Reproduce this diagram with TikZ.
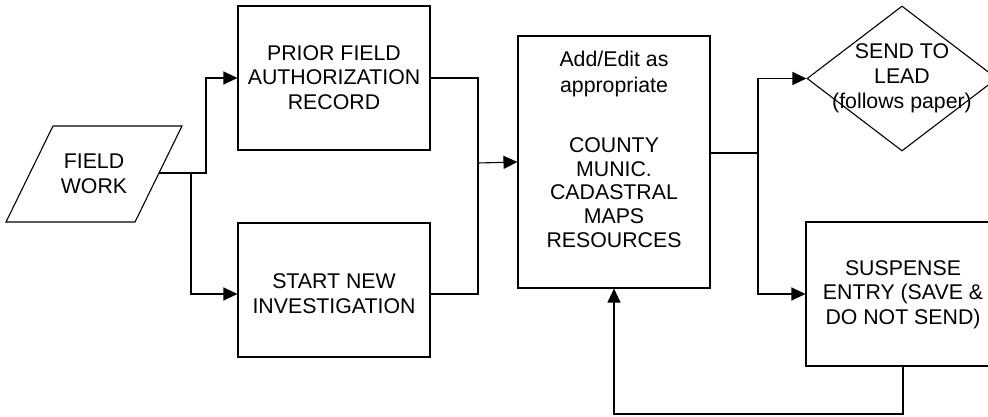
\documentclass[tikz,border=0pt]{standalone}
\usepackage{fontspec}
\setmainfont{Liberation Sans}
\usetikzlibrary{arrows.meta,shapes.geometric}
\begin{document}
\begin{tikzpicture}[x=1pt,y=-1pt,line width=1.1pt,
  box/.style={draw,rectangle,inner sep=0pt},
  txt/.style={align=center,inner sep=0pt,anchor=north,font=\fontsize{21.3}{24.8}\selectfont},
  arr/.style={-{Triangle[length=14pt,width=13pt]}}]
\useasboundingbox (0,0) rectangle (988,417);
\clip (0,0) rectangle (988,417);
% field work parallelogram
\coordinate (fwA) at (53,126);
\coordinate (fwB) at (182,126);
\coordinate (fwC) at (135,222);
\coordinate (fwD) at (6,222);
\draw (fwA) -- (fwB) -- (fwC) -- (fwD) -- cycle;
\node[txt] (fw) at (94,153) {FIELD\\WORK};
\coordinate (fwout) at (159,173);
% boxes
\node[box,minimum width=192pt,minimum height=144pt] (prior) at (334,78) {};
\node[txt] (priort) at (334,44.7) {PRIOR FIELD\\AUTHORIZATION\\RECORD};
\node[box,minimum width=192pt,minimum height=134pt] (start) at (334,290) {};
\node[txt] (startt) at (334,272.9) {START NEW\\INVESTIGATION};
\node[box,minimum width=192pt,minimum height=252pt] (mid) at (614,162) {};
\node[txt,font=\fontsize{21.3}{23.8}\selectfont] (midt) at (614,50.4) {Add/Edit as\\[2.2pt]appropriate\\[36.2pt]COUNTY\\MUNIC.\\CADASTRAL\\MAPS\\RESOURCES};
\node[draw,diamond,inner sep=0pt,minimum width=190pt,minimum height=145pt] (dia) at (902,78.5) {};
\node[txt] (diat) at (902,43) {SEND TO\\LEAD\\(follows paper)};
\node[box,minimum width=194pt,minimum height=144pt] (sus) at (903,294) {};
\node[txt] (sust) at (903,259.7) {SUSPENSE\\ENTRY (SAVE \&\\DO NOT SEND)};
% junctions
\coordinate (j1) at (206,173);
\coordinate (j2) at (191,173);
\coordinate (m1) at (478,163);
\coordinate (s1) at (758,153);
\coordinate (fb) at (903,414);
% connectors
\draw[arr] (fwout) -- (j1) |- (prior.west);
\draw[arr] (j2) |- ([yshift=-4pt]start.west);
\draw (prior.east) -| (m1);
\draw ([yshift=-4pt]start.east) -| (m1);
\draw[arr] (m1) -- (mid.west);
\draw ([yshift=9pt]mid.east) -- (s1);
\draw[arr] (s1) |- (dia.west);
\draw[arr] (s1) |- (sus.west);
\draw[arr] (sus.south) -- (fb) -| (mid.south);
\end{tikzpicture}
\end{document}
